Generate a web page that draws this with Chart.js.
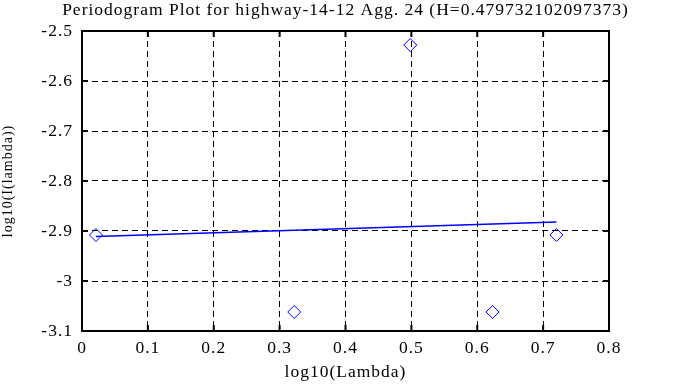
<!DOCTYPE html>
<html>
<head>
    <title>Periodogram Plot</title>
    <style>
        body { margin: 0; background: #fff; }
        #wrap { width: 673px; height: 387px; }
    </style>
</head>
<body>
    <div id="wrap"><canvas id="chart"></canvas></div>
    <script src="https://cdn.jsdelivr.net/npm/chart.js"></script>
    <script>
        // data
        const logLambda = [0.0212, 0.3222, 0.4983, 0.6232, 0.7202];
        const logI = [-2.908, -3.062, -2.528, -3.062, -2.908];
        const fitX = [0.0212, 0.7202];
        const fitY = [-2.911, -2.882];
        const xTicks = [0, 0.1, 0.2, 0.3, 0.4, 0.5, 0.6, 0.7, 0.8];
        const yTicks = [-2.5, -2.6, -2.7, -2.8, -2.9, -3, -3.1];

        const serif = "'Liberation Serif', 'DejaVu Serif', serif";

        // the reference font is a wide bitmap Times, so space the letters out a bit
        const spacingPlugin = {
            id: 'spacing',
            beforeUpdate(chart) { chart.ctx.letterSpacing = '1px'; },
            beforeDraw(chart) { chart.ctx.letterSpacing = '1px'; },
            afterLayout(chart) {
                // centre the title over the plot area, not the whole canvas
                const t = chart.titleBlock;
                if (!t) return;
                const mid = (chart.chartArea.left + chart.chartArea.right) / 2;
                t.left = mid - 315;
                t.right = mid + 315;
                t.width = 630;
            }
        };

        // frame around the plot with short inward ticks on every side
        const framePlugin = {
            id: 'frame',
            afterDraw(chart) {
                const { ctx, chartArea: a, scales } = chart;
                ctx.save();
                ctx.strokeStyle = '#000';
                ctx.lineWidth = 2;
                ctx.strokeRect(a.left, a.top, a.right - a.left, a.bottom - a.top);
                ctx.beginPath();
                xTicks.forEach(v => {
                    const px = scales.x.getPixelForValue(v);
                    ctx.moveTo(px, a.bottom); ctx.lineTo(px, a.bottom - 6);
                    ctx.moveTo(px, a.top); ctx.lineTo(px, a.top + 6);
                });
                yTicks.forEach(v => {
                    const py = scales.y.getPixelForValue(v);
                    ctx.moveTo(a.left, py); ctx.lineTo(a.left + 6, py);
                    ctx.moveTo(a.right, py); ctx.lineTo(a.right - 6, py);
                });
                ctx.stroke();
                ctx.restore();
            }
        };

        new Chart(document.getElementById('chart'), {
            type: 'scatter',
            data: {
                datasets: [
                    {
                        label: 'fit',
                        type: 'line',
                        data: fitX.map((x, i) => ({ x, y: fitY[i] })),
                        borderColor: '#0000ff',
                        borderWidth: 1.3,
                        pointRadius: 0,
                        fill: false
                    },
                    {
                        label: 'periodogram',
                        data: logLambda.map((x, i) => ({ x, y: logI[i] })),
                        pointStyle: 'rectRot',
                        pointRadius: 6.5,
                        pointBorderColor: '#0000ff',
                        pointBackgroundColor: 'rgba(0,0,0,0)',
                        pointBorderWidth: 1
                    }
                ]
            },
            options: {
                responsive: true,
                maintainAspectRatio: false,
                animation: false,
                layout: { padding: { top: 0, right: 64, left: 0, bottom: 0 } },
                plugins: {
                    legend: { display: false },
                    tooltip: { enabled: false },
                    title: {
                        display: true,
                        text: 'Periodogram Plot for highway-14-12 Agg. 24 (H=0.479732102097373)',
                        color: '#000',
                        font: { family: serif, size: 17.5, weight: 'normal', lineHeight: 1.2 },
                        padding: { top: 0, bottom: 10 }
                    }
                },
                scales: {
                    x: {
                        type: 'linear',
                        min: 0, max: 0.8,
                        afterBuildTicks: s => { s.ticks = xTicks.map(v => ({ value: v })); },
                        afterFit: s => { s.height = 56; },
                        ticks: {
                            color: '#000',
                            font: { family: serif, size: 17.5 },
                            padding: 7,
                            maxRotation: 0,
                            callback: v => String(v)
                        },
                        grid: { color: '#000', lineWidth: 1, drawTicks: false },
                        border: { display: false, dash: [6, 4] },
                        title: {
                            display: true,
                            text: 'log10(Lambda)',
                            color: '#000',
                            font: { family: serif, size: 17.5 },
                            padding: { top: 2, bottom: 4 }
                        }
                    },
                    y: {
                        type: 'linear',
                        min: -3.1, max: -2.5,
                        afterBuildTicks: s => { s.ticks = yTicks.map(v => ({ value: v })); },
                        afterFit: s => { s.width = 82; },
                        ticks: {
                            color: '#000',
                            font: { family: serif, size: 17.5 },
                            padding: 9,
                            callback: v => String(v)
                        },
                        grid: { color: '#000', lineWidth: 1, drawTicks: false },
                        border: { display: false, dash: [6, 4] },
                        title: {
                            display: true,
                            text: 'log10(I(lambda))',
                            color: '#000',
                            font: { family: serif, size: 14 },
                            padding: { top: 0, bottom: 0 }
                        }
                    }
                }
            },
            plugins: [spacingPlugin, framePlugin]
        });
    </script>
</body>
</html>
